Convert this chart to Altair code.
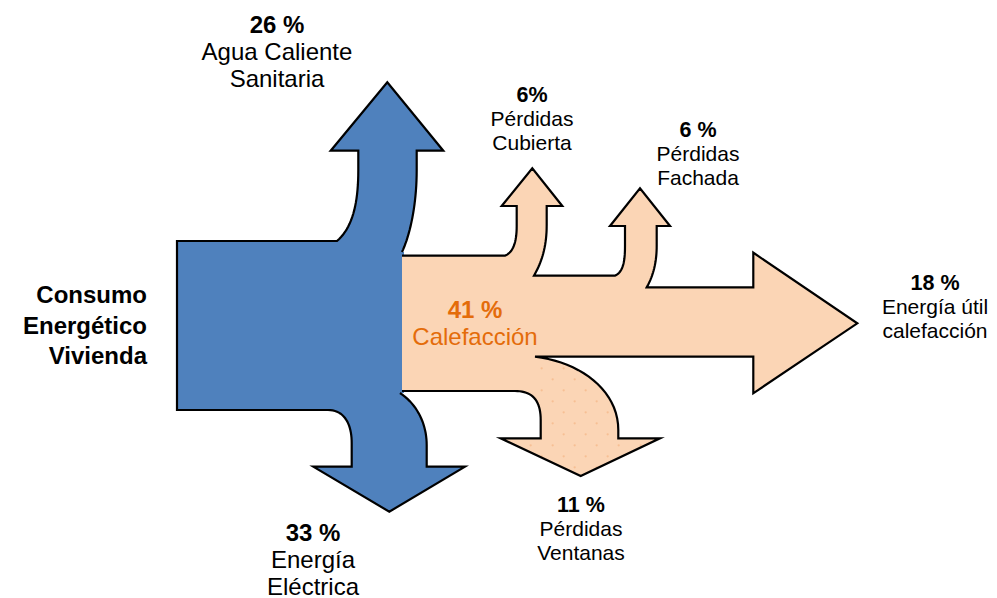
import altair as alt
import pandas as pd

# ---------------- data ----------------
flows = ["Agua Caliente Sanitaria", "Energía Eléctrica", "Calefacción",
         "Pérdidas Cubierta", "Pérdidas Fachada", "Pérdidas Ventanas",
         "Energía útil calefacción"]
values = [26, 33, 41, 6, 6, 11, 18]
pct_text = ["26 %", "33 %", "41 %", "6%", "6 %", "11 %", "18 %"]
name_lines = [["Agua Caliente", "Sanitaria"], ["Energía", "Eléctrica"], ["Calefacción"],
              ["Pérdidas", "Cubierta"], ["Pérdidas", "Fachada"], ["Pérdidas", "Ventanas"],
              ["Energía útil", "calefacción"]]
source_lines = ["Consumo", "Energético", "Vivienda"]

# ---------------- layout (screen pixels) ----------------
label_x = [277, 313, 475, 532, 698, 581, 935]
label_y = [26, 533.5, 311, 96, 131, 506, 284]
big = [True, True, True, False, False, False, False]
label_color = ["#000000", "#000000", "#E46C0A", "#000000", "#000000", "#000000", "#000000"]

BLUE = "#4F81BD"
PEACH = "#FBD5B5"
DOT = "#F5BC90"
FONT = "Liberation Sans"

blue_path = [
    ("M", (402, 252)),
    ("C", (410, 235), (416.7, 205), (416.7, 170)),
    ("L", (416.7, 150.7)), ("L", (443.3, 150.7)), ("L", (387.3, 82.3)),
    ("L", (330.7, 150.7)), ("L", (358.3, 150.7)), ("L", (358.3, 170)),
    ("C", (358.3, 205), (352, 228), (337, 241)),
    ("L", (177, 241)), ("L", (177, 410)), ("L", (328, 410)),
    ("C", (345, 410), (351.7, 425), (351.7, 443)),
    ("L", (351.7, 466.7)), ("L", (313.3, 466.7)), ("L", (389.3, 511.7)),
    ("L", (465, 466.7)), ("L", (426.7, 466.7)), ("L", (426.7, 445)),
    ("C", (426.7, 425), (418, 405), (400, 393)),
]
blue_hidden = [(404, 393), (404, 252)]

peach_path = [
    ("M", (402, 255.7)),
    ("L", (505, 255.7)),
    ("C", (514, 252), (516.7, 240), (516.7, 226)),
    ("L", (516.7, 206)), ("L", (501.7, 206)), ("L", (532.3, 168.3)),
    ("L", (562.3, 206)), ("L", (546.7, 206)), ("L", (546.7, 225)),
    ("C", (546.7, 250), (540, 265), (534, 275.7)),
    ("L", (615, 275.7)),
    ("C", (623, 272), (625, 262), (625, 246)),
    ("L", (625, 226)), ("L", (610, 226)), ("L", (640, 188.3)),
    ("L", (670, 226)), ("L", (656.7, 226)), ("L", (656.7, 246)),
    ("C", (656.7, 265), (652, 278), (646.7, 287.3)),
    ("L", (753.3, 287.3)), ("L", (753.3, 252.7)), ("L", (857.3, 323.3)),
    ("L", (753.3, 393.3)), ("L", (753.3, 356.7)), ("L", (535, 356.7)),
    ("C", (580, 362), (618.3, 390), (618.3, 430)),
    ("L", (618.3, 438.3)), ("L", (660, 438.3)), ("L", (580.7, 476)),
    ("L", (500.7, 438.3)), ("L", (540.7, 438.3)), ("L", (540.7, 420)),
    ("C", (540.7, 400), (532, 391), (515, 391)),
    ("L", (402, 391)),
]

dots_path = [
    ("M", (535, 356.7)),
    ("C", (580, 362), (618.3, 390), (618.3, 430)),
    ("L", (618.3, 438.3)), ("L", (660, 438.3)), ("L", (580.7, 476)),
    ("L", (500.7, 438.3)), ("L", (540.7, 438.3)), ("L", (540.7, 420)),
    ("L", (537, 391)),
]


def build(path, n=20):
    pts = []
    cur = None
    for seg in path:
        if seg[0] in ("M", "L"):
            cur = seg[1]
            pts.append(cur)
        else:
            p0, p1, p2, p3 = cur, seg[1], seg[2], seg[3]
            for k in range(1, n + 1):
                t = k / n
                a = (1 - t) ** 3
                b = 3 * (1 - t) ** 2 * t
                c = 3 * (1 - t) * t ** 2
                d = t ** 3
                pts.append((a * p0[0] + b * p1[0] + c * p2[0] + d * p3[0],
                            a * p0[1] + b * p1[1] + c * p2[1] + d * p3[1]))
            cur = p3
    return [[round(x, 2), round(y, 2)] for x, y in pts]


def inside(pt, poly):
    x, y = pt
    res = False
    n = len(poly)
    for i in range(n):
        x1, y1 = poly[i]
        x2, y2 = poly[(i + 1) % n]
        if (y1 > y) != (y2 > y):
            xi = x1 + (y - y1) * (x2 - x1) / (y2 - y1)
            if x < xi:
                res = not res
    return res


blue_pts = build(blue_path)
peach_pts = build(peach_path)

fill_features = [
    {"type": "Feature", "properties": {"fill": BLUE, "name": "Consumo"},
     "geometry": {"type": "Polygon", "coordinates": [blue_pts + [list(p) for p in blue_hidden] + [blue_pts[0]]]}},
    {"type": "Feature", "properties": {"fill": PEACH, "name": "Calefacción"},
     "geometry": {"type": "Polygon", "coordinates": [peach_pts + [peach_pts[0]]]}},
]
line_features = [
    {"type": "Feature", "properties": {"name": "Consumo"},
     "geometry": {"type": "LineString", "coordinates": blue_pts}},
    {"type": "Feature", "properties": {"name": "Calefacción"},
     "geometry": {"type": "LineString", "coordinates": peach_pts}},
]

# texture dots inside the "Ventanas" branch
dots_poly = build(dots_path)
dot_rows = []
for i in range(-6, 14):
    for j in range(-2, 12):
        if (i + j) % 2 == 0:
            px, py = 541.7 + 11 * i, 368.3 + 11 * j
            if inside((px, py), dots_poly) and inside((px + 2, py), dots_poly) and inside((px - 2, py), dots_poly):
                dot_rows.append({"lon": px, "lat": py})
dots_df = pd.DataFrame(dot_rows)

# labels
rows = []
for k in range(len(flows)):
    gap = 27 if big[k] else 24
    bsize = 24 if big[k] else 21.5
    nsize = 24 if big[k] else 21
    rows.append({"text": pct_text[k], "lon": label_x[k], "lat": label_y[k], "size": bsize,
                 "wt": "bold", "color": label_color[k], "anchor": "center"})
    for m, line in enumerate(name_lines[k]):
        rows.append({"text": line, "lon": label_x[k], "lat": label_y[k] + gap * (m + 1), "size": nsize,
                     "wt": "normal", "color": label_color[k], "anchor": "center"})
for m, line in enumerate(source_lines):
    rows.append({"text": line, "lon": 147, "lat": 296 + 30.5 * m, "size": 24,
                 "wt": "bold", "color": "#000000", "anchor": "right"})
labels = pd.DataFrame(rows)

proj = dict(type="identity", scale=1, translate=[-8, -8])

fills = alt.Chart(alt.Data(values=fill_features)).mark_geoshape(strokeWidth=0).encode(
    color=alt.Color("properties.fill:N", scale=None)
).project(**proj)

dots = alt.Chart(dots_df).mark_circle(size=5, color=DOT, opacity=0.9).encode(
    longitude="lon:Q", latitude="lat:Q"
).project(**proj)

outlines = alt.Chart(alt.Data(values=line_features)).mark_geoshape(
    filled=False, stroke="black", strokeWidth=2.2, strokeJoin="miter", strokeMiterLimit=10
).project(**proj)

text_layers = []
for w in ["bold", "normal"]:
    for a in ["center", "right"]:
        sub = labels[(labels["wt"] == w) & (labels["anchor"] == a)]
        if len(sub) == 0:
            continue
        text_layers.append(
            alt.Chart(sub).mark_text(font=FONT, fontWeight=w, align=a, baseline="middle").encode(
                longitude="lon:Q", latitude="lat:Q", text="text:N",
                size=alt.Size("size:Q", scale=None),
                color=alt.Color("color:N", scale=None),
            ).project(**proj)
        )

chart = alt.layer(fills, dots, outlines, *text_layers).properties(
    width=981, height=590, padding=0, autosize="none", background="white"
).configure_view(stroke=None)

chart.save("out.html", embed_options={"renderer": "svg", "actions": False})
